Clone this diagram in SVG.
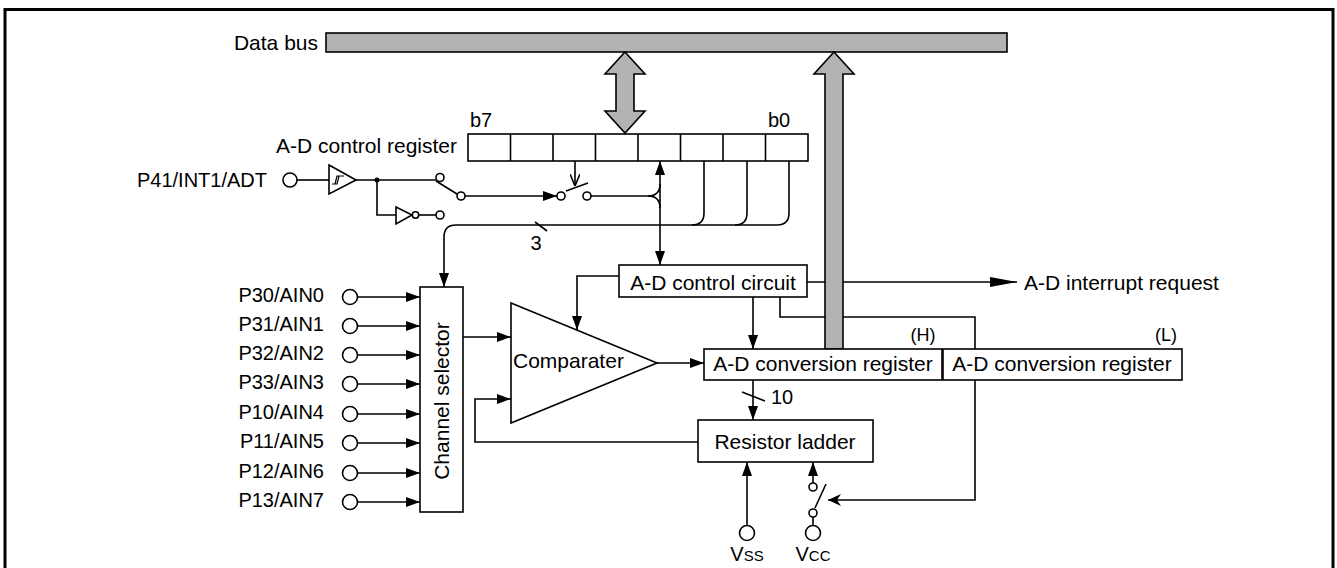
<svg xmlns="http://www.w3.org/2000/svg" width="1337" height="568" viewBox="0 0 1337 568">
<style>
text{font-family:"Liberation Sans",Arial,sans-serif;font-size:21px;fill:#000}
.pin{font-size:20px;text-anchor:end}
.box{fill:#fff;stroke:#000;stroke-width:1.6}
.ln{fill:none;stroke:#000;stroke-width:1.6}
.bus{fill:#b3b3b3;stroke:#000;stroke-width:1.6}
.c{fill:#fff;stroke:#000;stroke-width:1.6}
.mid{text-anchor:middle}
</style>
<defs>
<marker id="arr" viewBox="0 0 14 10" refX="14" refY="5" markerWidth="14" markerHeight="10" markerUnits="userSpaceOnUse" orient="auto-start-reverse"><path d="M0,0 L14,5 L0,10 z" fill="#000"/></marker>
<marker id="arrl" viewBox="0 0 27 10" refX="27" refY="5" markerWidth="27" markerHeight="10" markerUnits="userSpaceOnUse" orient="auto"><path d="M0,0 L27,5 L0,10 z" fill="#000"/></marker>
<marker id="stl" viewBox="0 0 13 12" refX="13" refY="6" markerWidth="13" markerHeight="12" markerUnits="userSpaceOnUse" orient="auto"><path d="M0,0 L13,6 L0,12 L4,6 z" fill="#000"/></marker>
<marker id="opn" viewBox="0 0 12 10" refX="12" refY="5" markerWidth="12" markerHeight="10" markerUnits="userSpaceOnUse" orient="auto"><path d="M0,0 L12,5 L0,10" fill="none" stroke="#000" stroke-width="1.6"/></marker>
</defs>

<path d="M5,568 V9.5 H1333 V568" fill="none" stroke="#000" stroke-width="3"/>

<g id="connectors">
<path class="ln" d="M297,180 H329"/>
<path class="ln" d="M356,180 H436"/>
<path class="ln" d="M436,181 L457,194"/>
<path class="ln" d="M377,180 V215 H396"/>
<path class="ln" d="M419,215 H436"/>
<path class="ln" d="M462,196 H557" marker-end="url(#arr)"/>
<path class="ln" d="M591,196 H648"/>
<path class="ln" d="M648,196 Q660,196 660,184"/>
<path class="ln" d="M648,196 Q660,196 660,208"/>
<path class="ln" d="M566,191 L588,183"/>
<path class="ln" d="M575,161 V186" marker-end="url(#opn)"/>
<path class="ln" d="M660,161 V265" marker-start="url(#arr)" marker-end="url(#arr)"/>
<path class="ln" d="M789,161 V213 Q789,225 777,225 H456 Q444,225 444,237 V287" marker-end="url(#arr)"/>
<path class="ln" d="M747,161 V213 Q747,225 735,225"/>
<path class="ln" d="M704,161 V213 Q704,225 692,225"/>
<path class="ln" d="M535,222 L547,231"/>
<path class="ln" d="M357.5,297 H420" marker-end="url(#arr)"/>
<path class="ln" d="M357.5,326 H420" marker-end="url(#arr)"/>
<path class="ln" d="M357.5,355 H420" marker-end="url(#arr)"/>
<path class="ln" d="M357.5,384 H420" marker-end="url(#arr)"/>
<path class="ln" d="M357.5,414 H420" marker-end="url(#arr)"/>
<path class="ln" d="M357.5,443 H420" marker-end="url(#arr)"/>
<path class="ln" d="M357.5,473 H420" marker-end="url(#arr)"/>
<path class="ln" d="M357.5,502 H420" marker-end="url(#arr)"/>
<path class="ln" d="M463,337 H511" marker-end="url(#arr)"/>
<path class="ln" d="M698,442 H475 V399 H511" marker-end="url(#arr)"/>
<path class="ln" d="M619,276 H577 V330" marker-end="url(#arr)"/>
<path class="ln" d="M657,363 H704" marker-end="url(#arr)"/>
<path class="ln" d="M753,297 V349" marker-end="url(#arr)"/>
<path class="ln" d="M753,380 V420" marker-end="url(#arr)"/>
<path class="ln" d="M742,392 L765,401"/>
<path class="ln" d="M807,282 H1017" marker-end="url(#arrl)"/>
<path class="ln" d="M780,297 V317 H975 V500 H828" marker-end="url(#stl)"/>
<path class="ln" d="M747,526 V462" marker-end="url(#arr)"/>
<path class="ln" d="M813,483 V462" marker-end="url(#arr)"/>
<path class="ln" d="M826,484 L815,508"/>
<path class="ln" d="M813,517 V525"/>
</g>

<g id="data-bus">
<rect class="bus" x="326" y="33" width="681" height="19"/>
<text x="318" y="50" style="text-anchor:end">Data bus</text>
</g>
<g id="bus-arrow-register">
<path class="bus" d="M625,52 L645,74 L634,74 L634,111 L645,111 L625,133 L605,111 L616,111 L616,74 L605,74 z"/>
</g>
<g id="bus-arrow-conversion">
<path class="bus" d="M834,52 L854,74 L843,74 L843,349 L825,349 L825,74 L814,74 z"/>
</g>

<g id="control-register">
<rect class="box" x="468" y="134" width="340" height="27"/>
<path class="ln" d="M510.5,134 V161 M553,134 V161 M595.5,134 V161 M638,134 V161 M680.5,134 V161 M723,134 V161 M765.5,134 V161"/>
<text x="457" y="153" style="text-anchor:end">A-D control register</text>
<text x="470" y="127" style="font-size:20px">b7</text>
<text x="768" y="127" style="font-size:20px">b0</text>
</g>

<g id="p41">
<text class="pin" x="267" y="187">P41/INT1/ADT</text>
<circle class="c" cx="290" cy="180" r="7"/>
</g>
<g id="schmitt-buffer">
<path class="c" d="M329,165 L356,180 L329,194 z"/>
<path class="ln" d="M332,184 H337 L339,176 H344 M335,184 L337,176 H340" style="stroke-width:1.2"/>
<circle cx="377" cy="180" r="2.5" fill="#000"/>
</g>
<g id="inverter">
<path class="c" d="M396,207 L412,215 L396,224 z"/>
<circle class="c" cx="415.5" cy="215" r="3.2"/>
</g>
<g id="trigger-switch">
<circle class="c" cx="440" cy="177.5" r="4"/>
<circle class="c" cx="440" cy="215" r="4"/>
<circle class="c" cx="461" cy="196" r="4"/>
</g>
<g id="enable-switch">
<circle class="c" cx="561" cy="196" r="4"/>
<circle class="c" cx="587" cy="196" r="4"/>
</g>
<g id="bits-label">
<text x="536" y="250" class="mid" style="font-size:20px">3</text>
</g>

<g id="pins">
<text class="pin" x="324" y="302">P30/AIN0</text><circle class="c" cx="350" cy="297" r="7.5"/>
<text class="pin" x="324" y="331">P31/AIN1</text><circle class="c" cx="350" cy="326" r="7.5"/>
<text class="pin" x="324" y="360">P32/AIN2</text><circle class="c" cx="350" cy="355" r="7.5"/>
<text class="pin" x="324" y="389">P33/AIN3</text><circle class="c" cx="350" cy="384" r="7.5"/>
<text class="pin" x="324" y="419">P10/AIN4</text><circle class="c" cx="350" cy="414" r="7.5"/>
<text class="pin" x="324" y="448">P11/AIN5</text><circle class="c" cx="350" cy="443" r="7.5"/>
<text class="pin" x="324" y="478">P12/AIN6</text><circle class="c" cx="350" cy="473" r="7.5"/>
<text class="pin" x="324" y="507">P13/AIN7</text><circle class="c" cx="350" cy="502" r="7.5"/>
</g>

<g id="channel-selector">
<rect class="box" x="420" y="287" width="43" height="225"/>
<text transform="translate(449,401) rotate(-90)" class="mid">Channel selector</text>
</g>

<g id="comparator">
<path class="c" d="M511,303 L657,363 L511,423 z"/>
<text x="513" y="368">Comparater</text>
</g>

<g id="control-circuit">
<rect class="box" x="619" y="265" width="188" height="32"/>
<text x="713" y="290" class="mid">A-D control circuit</text>
</g>

<g id="interrupt-label">
<text x="1024" y="290">A-D interrupt request</text>
</g>

<g id="conv-reg-h">
<rect class="box" x="704" y="349" width="238" height="31"/>
<text x="823" y="371" class="mid">A-D conversion register</text>
<text x="923" y="341" class="mid" style="font-size:18px">(H)</text>
</g>
<g id="conv-reg-l">
<rect class="box" x="943" y="349" width="239" height="31"/>
<text x="1062" y="371" class="mid">A-D conversion register</text>
<text x="1166" y="341" class="mid" style="font-size:18px">(L)</text>
</g>

<g id="bit-count">
<text x="771" y="404" style="font-size:20px">10</text>
</g>

<g id="resistor-ladder">
<rect class="box" x="698" y="420" width="175" height="42"/>
<text x="785" y="449" class="mid">Resistor ladder</text>
</g>

<g id="vss">
<circle class="c" cx="747" cy="533" r="7.5"/>
<text x="747" y="561" class="mid" style="font-size:20px">V<tspan style="font-size:15px">SS</tspan></text>
</g>
<g id="vcc">
<circle class="c" cx="813" cy="487" r="4"/>
<circle class="c" cx="813" cy="513" r="4"/>
<circle class="c" cx="813" cy="533" r="7.5"/>
<text x="813" y="561" class="mid" style="font-size:20px">V<tspan style="font-size:15px">CC</tspan></text>
</g>
</svg>
